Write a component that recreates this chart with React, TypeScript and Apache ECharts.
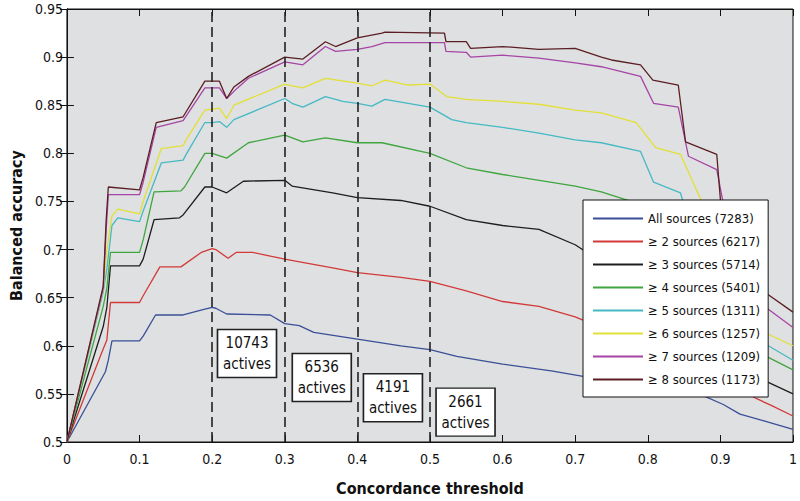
import React, { useEffect, useRef } from "react";
import * as echarts from "echarts";

type Pt = [number, number];

const seriesNames = [
  "All sources (7283)",
  "\u2265 2 sources (6217)",
  "\u2265 3 sources (5714)",
  "\u2265 4 sources (5401)",
  "\u2265 5 sources (1311)",
  "\u2265 6 sources (1257)",
  "\u2265 7 sources (1209)",
  "\u2265 8 sources (1173)",
];

const seriesColors = ["#3a4f98", "#d23a3a", "#1e1e1e", "#3fa53f", "#45b9c4", "#e2e036", "#a545a5", "#5a1e24"];

const allSources: Pt[] = [[0,0.5],[0.053,0.573],[0.057,0.585],[0.062,0.605],[0.1,0.605],[0.105,0.61],[0.122,0.632],[0.16,0.632],[0.19,0.638],[0.2,0.64],[0.205,0.639],[0.22,0.633],[0.28,0.632],[0.3,0.623],[0.32,0.621],[0.34,0.614],[0.4,0.607],[0.46,0.6],[0.5,0.596],[0.537,0.589],[0.6,0.581],[0.667,0.574],[0.705,0.569],[0.75,0.563],[0.8,0.557],[0.85,0.551],[0.877,0.548],[0.904,0.539],[0.927,0.529],[0.96,0.522],[1,0.513]];

const atLeast2: Pt[] = [[0,0.5],[0.048,0.593],[0.055,0.606],[0.06,0.645],[0.1,0.645],[0.105,0.652],[0.128,0.682],[0.157,0.682],[0.185,0.697],[0.2,0.701],[0.205,0.7],[0.222,0.691],[0.233,0.697],[0.256,0.697],[0.3,0.69],[0.33,0.686],[0.366,0.681],[0.4,0.676],[0.46,0.671],[0.5,0.667],[0.55,0.657],[0.6,0.646],[0.65,0.641],[0.7,0.63],[0.71,0.627],[0.75,0.62],[0.8,0.61],[0.85,0.6],[0.88,0.59],[0.9,0.57],[0.93,0.553],[0.95,0.545],[0.97,0.538],[1,0.527]];

const atLeast3: Pt[] = [[0,0.5],[0.05,0.62],[0.055,0.64],[0.06,0.683],[0.1,0.683],[0.105,0.69],[0.12,0.731],[0.155,0.733],[0.16,0.736],[0.19,0.765],[0.2,0.765],[0.22,0.759],[0.243,0.771],[0.3,0.772],[0.31,0.766],[0.366,0.759],[0.4,0.754],[0.46,0.751],[0.5,0.745],[0.55,0.731],[0.6,0.725],[0.65,0.721],[0.7,0.705],[0.71,0.7],[0.75,0.69],[0.8,0.675],[0.85,0.655],[0.88,0.64],[0.9,0.61],[0.93,0.575],[0.966,0.562],[1,0.55]];

const atLeast4: Pt[] = [[0,0.5],[0.05,0.641],[0.055,0.66],[0.06,0.697],[0.1,0.697],[0.105,0.71],[0.12,0.76],[0.157,0.761],[0.162,0.765],[0.19,0.8],[0.2,0.8],[0.22,0.795],[0.25,0.811],[0.3,0.819],[0.325,0.812],[0.356,0.816],[0.4,0.811],[0.434,0.811],[0.5,0.8],[0.55,0.785],[0.6,0.778],[0.7,0.766],[0.736,0.76],[0.777,0.75],[0.82,0.72],[0.85,0.7],[0.88,0.66],[0.9,0.63],[0.93,0.6],[0.966,0.588],[1,0.575]];

const atLeast5: Pt[] = [[0,0.5],[0.05,0.656],[0.055,0.68],[0.062,0.725],[0.07,0.733],[0.1,0.729],[0.105,0.74],[0.13,0.79],[0.16,0.793],[0.165,0.8],[0.19,0.832],[0.2,0.832],[0.21,0.833],[0.22,0.827],[0.23,0.835],[0.3,0.857],[0.31,0.852],[0.325,0.848],[0.356,0.859],[0.38,0.854],[0.4,0.852],[0.42,0.849],[0.438,0.856],[0.5,0.848],[0.53,0.835],[0.55,0.832],[0.6,0.827],[0.65,0.821],[0.7,0.814],[0.736,0.811],[0.79,0.802],[0.808,0.77],[0.845,0.759],[0.86,0.72],[0.88,0.68],[0.9,0.65],[0.93,0.615],[0.966,0.6],[1,0.585]];

const atLeast6: Pt[] = [[0,0.5],[0.05,0.659],[0.055,0.7],[0.062,0.735],[0.07,0.742],[0.1,0.737],[0.105,0.75],[0.13,0.805],[0.16,0.808],[0.165,0.815],[0.19,0.845],[0.2,0.846],[0.21,0.847],[0.22,0.836],[0.23,0.85],[0.3,0.872],[0.31,0.87],[0.325,0.868],[0.356,0.878],[0.4,0.873],[0.42,0.87],[0.438,0.876],[0.47,0.871],[0.5,0.872],[0.523,0.859],[0.55,0.856],[0.6,0.854],[0.65,0.851],[0.7,0.845],[0.736,0.842],[0.784,0.832],[0.811,0.806],[0.845,0.799],[0.873,0.752],[0.9,0.69],[0.93,0.63],[0.966,0.612],[1,0.6]];

const atLeast7: Pt[] = [[0,0.5],[0.05,0.66],[0.054,0.72],[0.057,0.757],[0.1,0.757],[0.105,0.77],[0.123,0.827],[0.16,0.834],[0.19,0.868],[0.21,0.868],[0.22,0.857],[0.235,0.868],[0.25,0.878],[0.3,0.895],[0.325,0.892],[0.356,0.911],[0.37,0.906],[0.4,0.908],[0.42,0.911],[0.438,0.915],[0.52,0.915],[0.522,0.906],[0.55,0.905],[0.556,0.9],[0.6,0.902],[0.65,0.899],[0.7,0.894],[0.736,0.89],[0.79,0.88],[0.808,0.852],[0.842,0.848],[0.856,0.797],[0.895,0.783],[0.903,0.752],[0.91,0.69],[0.92,0.66],[0.966,0.638],[1,0.619]];

const atLeast8: Pt[] = [[0,0.5],[0.05,0.662],[0.054,0.73],[0.057,0.765],[0.1,0.762],[0.105,0.775],[0.123,0.832],[0.16,0.838],[0.19,0.875],[0.21,0.875],[0.22,0.857],[0.23,0.869],[0.25,0.88],[0.3,0.9],[0.325,0.898],[0.356,0.916],[0.37,0.911],[0.4,0.92],[0.434,0.925],[0.438,0.926],[0.52,0.925],[0.522,0.916],[0.55,0.916],[0.556,0.909],[0.6,0.911],[0.65,0.908],[0.7,0.909],[0.736,0.9],[0.75,0.897],[0.79,0.892],[0.807,0.876],[0.842,0.871],[0.852,0.812],[0.895,0.799],[0.9,0.752],[0.905,0.7],[0.92,0.675],[0.966,0.653],[1,0.635]];

const seriesData: Pt[][] = [allSources, atLeast2, atLeast3, atLeast4, atLeast5, atLeast6, atLeast7, atLeast8];

const thresholdLines = [0.2, 0.3, 0.4, 0.5];
const activesLabels = ["10743\nactives", "6536\nactives", "4191\nactives", "2661\nactives"];
const activesBoxX = [0.248, 0.351, 0.449, 0.549];
const activesBoxY = [0.592, 0.567, 0.546, 0.531];

const FONT = "'Liberation Sans Narrow', 'DejaVu Sans Condensed', 'Roboto Condensed', Arial, sans-serif";

const fmt = (v: number) => String(+v.toFixed(2));

export default function App() {
  const ref = useRef<HTMLDivElement>(null);
  useEffect(() => {
    if (!ref.current) return;
    const chart = echarts.init(ref.current, undefined, { renderer: "svg" });
    const tick = { show: true, inside: true, length: 7, lineStyle: { color: "#111", width: 1 } };
    const series: any[] = seriesData.map((d, i) => ({
      name: seriesNames[i],
      type: "line",
      data: d,
      symbol: "none",
      showSymbol: false,
      lineStyle: { color: seriesColors[i], width: 1.3 },
      itemStyle: { color: seriesColors[i] },
      z: 2,
    }));
    series.push({
      name: "annotations",
      type: "line",
      data: [],
      symbol: "none",
      z: 5,
      markLine: {
        silent: true,
        symbol: ["none", "none"],
        label: { show: false },
        lineStyle: { color: "#222", width: 1.6, type: [10, 5] },
        data: thresholdLines.map((x) => ({ xAxis: x })),
      },
      markPoint: {
        silent: true,
        symbol: "rect",
        symbolSize: [59, 48],
        itemStyle: { color: "#ffffff", borderColor: "#222", borderWidth: 1.5 },
        label: {
          show: true,
          position: "inside",
          color: "#111",
          fontFamily: FONT,
          fontSize: 15,
          lineHeight: 21,
        },
        data: activesLabels.map((t, i) => ({
          coord: [activesBoxX[i], activesBoxY[i]],
          label: { formatter: t },
        })),
      },
    });
    chart.setOption({
      animation: false,
      backgroundColor: "#ffffff",
      textStyle: { fontFamily: FONT },
      grid: {
        left: 63,
        right: 7,
        top: 9,
        bottom: 58,
        show: true,
        backgroundColor: "#dfe0e1",
        borderColor: "#111",
        borderWidth: 1,
      },
      legend: {
        data: seriesNames,
        orient: "vertical",
        left: 583,
        top: 200,
        itemWidth: 50,
        itemHeight: 14,
        itemGap: 10,
        padding: [12, 8, 11, 9],
        backgroundColor: "#ffffff",
        borderColor: "#111",
        borderWidth: 1,
        itemStyle: { opacity: 0 },
        textStyle: { color: "#111", fontFamily: FONT, fontSize: 13 },
        selectedMode: false,
        z: 10,
      },
      xAxis: [
        {
          type: "value",
          min: 0,
          max: 1,
          interval: 0.1,
          position: "bottom",
          axisLine: { show: true, lineStyle: { color: "#111" } },
          axisTick: tick,
          splitLine: { show: false },
          axisLabel: { color: "#111", fontSize: 14, fontFamily: FONT, margin: 10, formatter: fmt },
          name: "Concordance threshold",
          nameLocation: "middle",
          nameGap: 38,
          nameTextStyle: { color: "#111", fontSize: 16, fontWeight: "bold", fontFamily: FONT },
        },
        {
          type: "value",
          min: 0,
          max: 1,
          interval: 0.1,
          position: "top",
          axisLine: { show: true, lineStyle: { color: "#111" } },
          axisTick: tick,
          splitLine: { show: false },
          axisLabel: { show: false },
        },
      ],
      yAxis: [
        {
          type: "value",
          min: 0.5,
          max: 0.95,
          interval: 0.05,
          position: "left",
          axisLine: { show: true, lineStyle: { color: "#111" } },
          axisTick: tick,
          splitLine: { show: false },
          axisLabel: { color: "#111", fontSize: 14, fontFamily: FONT, margin: 4, formatter: fmt },
          name: "Balanced accuracy",
          nameLocation: "middle",
          nameGap: 40,
          nameTextStyle: { color: "#111", fontSize: 16, fontWeight: "bold", fontFamily: FONT },
        },
        {
          type: "value",
          min: 0.5,
          max: 0.95,
          interval: 0.05,
          position: "right",
          axisLine: { show: true, lineStyle: { color: "#111" } },
          axisTick: tick,
          splitLine: { show: false },
          axisLabel: { show: false },
        },
      ],
      series,
    });
    return () => chart.dispose();
  }, []);
  return <div ref={ref} style={{ position: "fixed", left: 0, top: 0, width: 800, height: 501 }} />;
}
